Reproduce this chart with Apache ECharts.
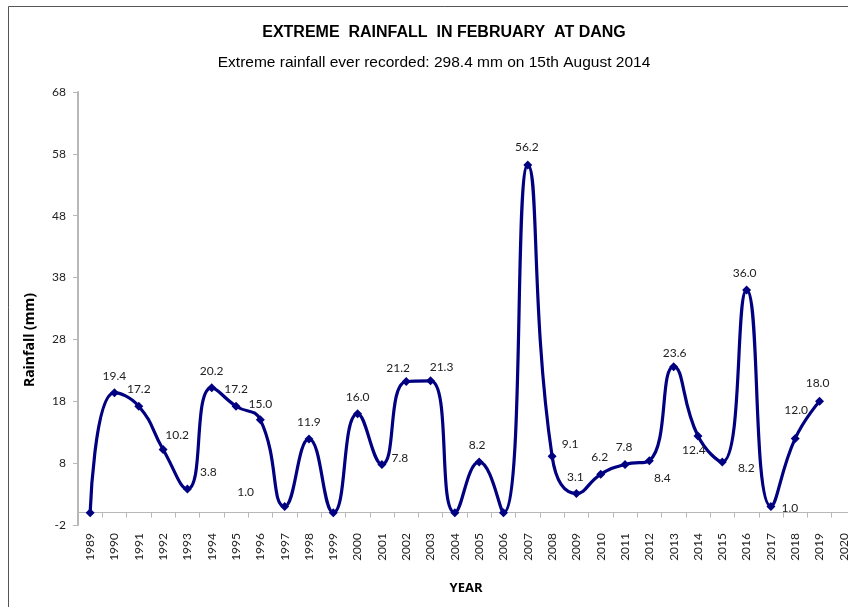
<!DOCTYPE html>
<html>
<head>
<meta charset="utf-8">
<script src="https://cdn.jsdelivr.net/npm/echarts@6/dist/echarts.min.js"></script>
<style>html,body{margin:0;padding:0;background:#fff;overflow:hidden}#c{width:880px;height:607px}</style>
</head>
<body>
<div id="c"></div>
<script>
var years = ['1989','1990','1991','1992','1993','1994','1995','1996','1997','1998','1999','2000','2001','2002','2003','2004','2005','2006','2007','2008','2009','2010','2011','2012','2013','2014','2015','2016','2017','2018','2019','2020'];
var rainfall = [0,19.4,17.2,10.2,3.8,20.2,17.2,15.0,1.0,11.9,0,16.0,7.8,21.2,21.3,0,8.2,0,56.2,9.1,3.1,6.2,7.8,8.4,23.6,12.4,8.2,36.0,1.0,12.0,18.0,null];
var yTicks = {min:-2, max:68, interval:10};
var titleText = 'EXTREME  RAINFALL  IN FEBRUARY  AT DANG';
var subtitleText = 'Extreme rainfall ever recorded: 298.4 mm on 15th August 2014';
// label placement (style only)
var labelOffsets = [null,[0,-17],[0,-17],[14,-14],[21,-17],[0,-17],[0,-17],[0,-16],[-39,-14],[0,-17],null,[0,-17],[18,-6],[-8,-13],[11,-14],null,[-2,-17],null,[-1,-18],[18,-12],[-1,-16],[-1,-17],[-1,-17],[13,17],[1,-14],[-4,14],[24,6],[-2,-17],[19,2],[1,-28],[-2,-18],null];

var chart = echarts.init(document.getElementById('c'), null, {renderer:'canvas'});
var seriesData = rainfall.map(function(v,i){
  var o = {value: v};
  if (v !== null && v !== 0 && labelOffsets[i]) {
    o.label = {show:true, offset: labelOffsets[i]};
  } else {
    o.label = {show:false};
  }
  return o;
});
var lblFont = 'Lato, "Open Sans", sans-serif';
chart.setOption({
  animation:false,
  backgroundColor:'#fff',
  grid:{left:78, top:92, width:778, height:433, containLabel:false},
  xAxis:{
    type:'category', data:years, boundaryGap:true,
    axisLine:{onZero:true, lineStyle:{color:'#b8b8b8', width:1}},
    axisTick:{show:true, interval:0, length:5, lineStyle:{color:'#b8b8b8'}},
    axisLabel:{interval:0, rotate:90, margin:8, color:'#222', fontSize:12, fontFamily:lblFont},
    splitLine:{show:false}
  },
  yAxis:{
    type:'value', min:yTicks.min, max:yTicks.max, interval:yTicks.interval,
    axisLine:{show:true, lineStyle:{color:'#b8b8b8', width:2}},
    axisTick:{show:true, length:5, lineStyle:{color:'#b8b8b8'}},
    axisLabel:{color:'#222', fontSize:12, fontFamily:lblFont, margin:12},
    splitLine:{show:false}
  },
  series:[{
    type:'line', data:seriesData, smooth:0.5,
    symbol:'diamond', symbolSize:9,
    itemStyle:{color:'#000080'},
    lineStyle:{color:'#000080', width:3.2},
    label:{show:true, position:'inside', color:'#222', fontSize:12, fontFamily:lblFont,
      formatter:function(p){return p.value==null?'':Number(p.value).toFixed(1);}}
  }],
  graphic:[
    {type:'rect', shape:{x:8.5, y:6.5, width:900, height:700}, style:{fill:'none', stroke:'#555', lineWidth:1}, silent:true},
    {type:'text', x:444, y:33, style:{text:titleText, font:'bold 16px "Liberation Sans", Arial, sans-serif', fill:'#000', textAlign:'center', textVerticalAlign:'middle'}},
    {type:'text', x:434, y:63, style:{text:subtitleText, font:'15.5px "Liberation Sans", Arial, sans-serif', fill:'#000', textAlign:'center', textVerticalAlign:'middle'}},
    {type:'text', x:30, y:340, rotation:Math.PI/2, style:{text:'Rainfall (mm)', font:'bold 14px "Open Sans", Lato, sans-serif', fill:'#000', textAlign:'center', textVerticalAlign:'middle'}},
    {type:'text', x:466, y:588, style:{text:'YEAR', font:'bold 13px "Open Sans", Lato, sans-serif', fill:'#000', textAlign:'center', textVerticalAlign:'middle'}}
  ]
});
</script>
</body>
</html>
